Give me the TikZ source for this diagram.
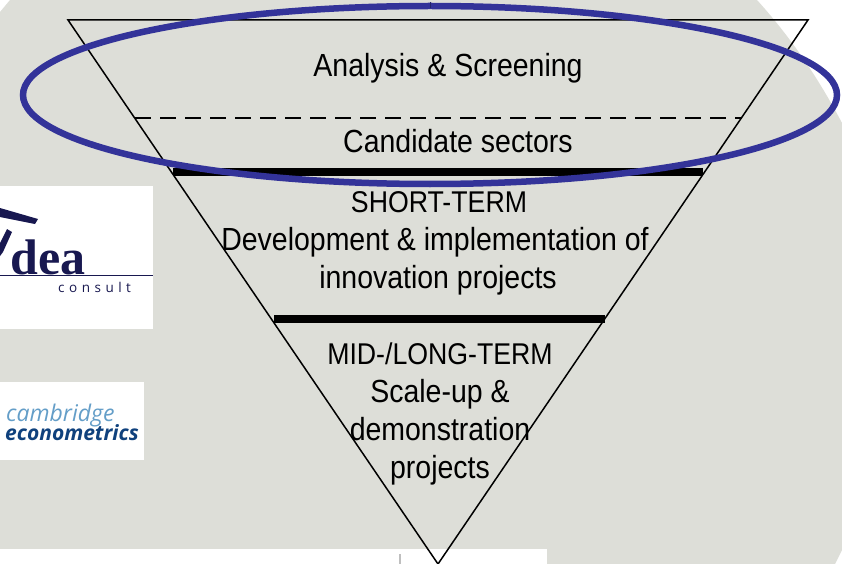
\documentclass[tikz,border=0pt]{standalone}
\usepackage{fontspec}
\setmainfont[FakeStretch=0.89]{Liberation Sans}
\newfontfamily\logoserif{Liberation Serif}
\newfontfamily\logosans{Open Sans}
\definecolor{slidegrey}{RGB}{221,222,216}
\definecolor{ringblue}{RGB}{51,51,153}
\definecolor{ideanavy}{RGB}{24,24,80}
\definecolor{camblight}{RGB}{100,158,200}
\definecolor{cambdark}{RGB}{15,65,125}
\newcommand{\capsline}[1]{{\fontsize{30}{38}\selectfont #1}}
\tikzset{
	stagetext/.style={align=center, font=\fontsize{32}{38}\selectfont, inner sep=0pt},
	stagebar/.style={line width=8pt}
}
\begin{document}
\begin{tikzpicture}[x=1pt, y=-1pt]
	\useasboundingbox (0, 0) rectangle (842, 564);
	
	% slide background
	\fill[slidegrey] (10, 0) -- (757, 0) .. controls (795, 42) and (822, 85) .. (842, 123) -- (842, 550) -- (835, 564) -- (0, 564) -- (0, 12) -- cycle;
	\fill[white] (0, 549) rectangle (547, 564);
	\fill[gray!50] (399, 554) rectangle (401, 564);
	
	% logos
	\fill[white] (0, 186) rectangle (153, 329);
	\fill[ideanavy] (0, 208) -- (38, 219) -- (35, 224) -- (0, 217) -- cycle;
	\fill[ideanavy] (0, 243) -- (7, 229) -- (12, 232) -- (3, 252) -- (0, 256) -- cycle;
	\node[font=\logoserif\bfseries\fontsize{50}{50}\selectfont, text=ideanavy, inner sep=0pt, anchor=base west] (dea) at (10, 274) {dea};
	\draw[ideanavy] (0, 275) -- (153, 275);
	\node[font=\logosans\fontsize{13.5}{13.5}\selectfont, text=ideanavy, inner sep=0pt, anchor=base west] (consult) at (58, 292) {c\,\,o\,\,n\,\,s\,\,u\,\,l\,\,t};
	
	\fill[white] (0, 382) rectangle (144, 460);
	\node[font=\logosans\itshape\fontsize{23}{23}\selectfont, text=camblight, inner sep=0pt, anchor=base west] (cambridge) at (6, 421) {cambridge};
	\node[font=\logosans\itshape\bfseries\fontsize{21}{21}\selectfont, text=cambdark, inner sep=0pt, anchor=base west] (econometrics) at (5, 440) {econometrics};
	
	% triangle
	\coordinate (t1) at (68, 20);
	\coordinate (t2) at (808, 20);
	\coordinate (apex) at (438, 564);
	\draw[line width=1.5pt, line join=miter] (t1) -- (t2) -- (apex) -- cycle;
	
	% levels
	\coordinate (d1) at (135, 118);
	\coordinate (d2) at (742, 118);
	\draw[line width=1.5pt, dash pattern=on 16pt off 9pt] (d1) -- (d2);
	
	\coordinate (b1) at (173, 172);
	\coordinate (b2) at (703, 172);
	\draw[stagebar] (b1) -- (b2);
	
	\coordinate (b3) at (274, 319);
	\coordinate (b4) at (605, 319);
	\draw[stagebar] (b3) -- (b4);
	
	\draw[ringblue, line width=6.5pt] (430, 95) ellipse (407 and 89);
	\draw[ringblue!70!black] (430.5, 2) -- (430.5, 8.5);
	
	% labels
	\node[stagetext] (analysis) at (448, 68) {Analysis \& Screening};
	\node[stagetext] (candidate) at (458, 141) {Candidate sectors};
	\node[stagetext] (short) at (435, 243.5) {\hspace{8pt}\capsline{SHORT-TERM}\\Development \& implementation of\\\hspace{6pt}innovation projects};
	\node[stagetext] (mid) at (440, 413.5) {\capsline{MID-/LONG-TERM}\\Scale-up \&\hspace{8pt}\\demonstration\\projects};
\end{tikzpicture}
\end{document}
